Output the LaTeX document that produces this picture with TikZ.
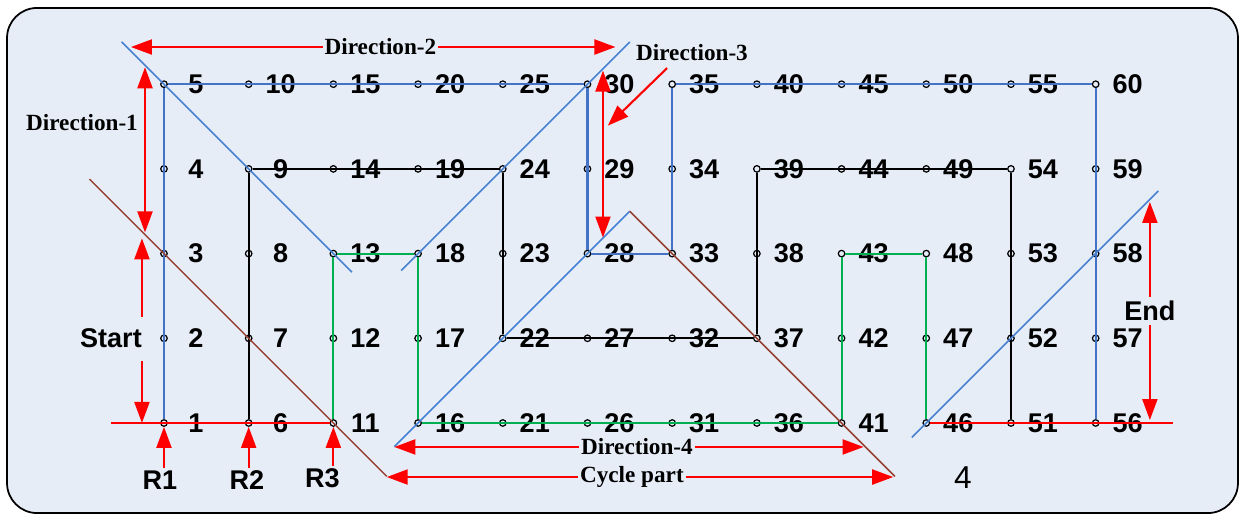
\documentclass[tikz,border=0pt]{standalone}
\usepackage{fontspec}
\setmainfont{Liberation Serif}
\setsansfont{Liberation Sans}
\usetikzlibrary{arrows.meta,calc}

\definecolor{bgblue}{RGB}{231,237,247}
\definecolor{pathblue}{RGB}{68,114,196}
\definecolor{cutblue}{RGB}{70,128,210}
\definecolor{pathgreen}{RGB}{0,176,80}
\definecolor{cutbrown}{RGB}{150,65,50}

\begin{document}
\begin{tikzpicture}[x=0.847cm, y=0.847cm,
  dot/.style={circle, draw=black, line width=0.35pt, fill=bgblue, inner sep=0pt, minimum size=0.065cm},
  num/.style={font=\sffamily\bfseries\fontsize{7.7}{9}\selectfont, text=black, inner sep=0.5pt},
  dirlbl/.style={font=\rmfamily\bfseries\fontsize{6.6}{8}\selectfont, text=black, inner sep=0.6pt},
  redline/.style={red, line width=0.6pt},
  redarr/.style={redline, -{Triangle[length=2.1mm,width=1.5mm]}},
  redboth/.style={redline, {Triangle[length=2.1mm,width=1.5mm]}-{Triangle[length=2.1mm,width=1.5mm]}},
  bluepath/.style={pathblue, line width=0.6pt},
  blackpath/.style={black, line width=0.6pt},
  greenpath/.style={pathgreen, line width=0.6pt},
  bluecut/.style={cutblue, line width=0.45pt},
  browncut/.style={cutbrown, line width=0.45pt}]
\useasboundingbox (-1.936,-1.086) rectangle (12.704,4.994);
\draw[black, line width=0.5pt, fill=bgblue, rounded corners=0.3cm] (-1.853,-1.063) rectangle (12.68,4.90);

% grid of points 1..60
\foreach \c in {0,...,11}
  \foreach \r in {0,...,4} {
    \pgfmathtruncatemacro{\k}{5*\c+\r+1}
    \node[dot] (n\k) at (\c,\r) {};
    \node[num] (l\k) at ([xshift=0.32cm]n\k.center) {\k};
  }

% the three loops
\draw[bluepath] (n1) -- (n5) -- (n30) -- (n28) -- (n33) -- (n35) -- (n60) -- (n56);
\draw[blackpath] (n6) -- (n9) -- (n24) -- (n22) -- (n37) -- (n39) -- (n54) -- (n51);
\draw[greenpath] (n11) -- (n13) -- (n18) -- (n16) -- (n41) -- (n43) -- (n48) -- (n46);

% start and end rows
\coordinate (rowL) at (-0.626,0);
\coordinate (rowR) at (11.91,0);
\draw[redline] (rowL) -- (n11);
\draw[redline] (n46) -- (rowR);

% cutting lines
\coordinate (cut1s) at (-0.5,4.5);   \coordinate (cut1e) at (2.22,1.78);
\coordinate (cut2s) at (2.8,1.8);    \coordinate (cut2e) at (5.5,4.5);
\coordinate (cut3s) at (2.72,-0.28); \coordinate (apex) at (5.5,2.5);
\coordinate (cut4e) at (8.63,-0.63);
\coordinate (cut5s) at (-0.88,2.88); \coordinate (cut5e) at (2.63,-0.63);
\coordinate (cut6s) at (8.83,-0.17); \coordinate (cut6e) at (11.74,2.74);
\draw[bluecut] (cut1s) -- (cut1e);
\draw[bluecut] (cut2s) -- (cut2e);
\draw[bluecut] (cut3s) -- (apex);
\draw[browncut] (apex) -- (cut4e);
\draw[browncut] (cut5s) -- (cut5e);
\draw[bluecut] (cut6s) -- (cut6e);

% Direction-1
\coordinate (d1t) at (-0.224,4.2); \coordinate (d1b) at (-0.224,2.25);
\draw[redboth] (d1b) -- (d1t);
\node[dirlbl] (d1) at (-0.968,3.542) {Direction-1};

% Direction-2
\coordinate (d2l) at (-0.39,4.439); \coordinate (d2r) at (5.33,4.439);
\draw[redboth] (d2l) -- node[dirlbl, fill=bgblue, pos=0.515] (d2) {Direction-2} (d2r);

% Direction-3
\coordinate (d3t) at (5.183,4.16); \coordinate (d3b) at (5.183,2.19);
\draw[redboth] (d3b) -- (d3t);
\node[dirlbl] (d3) at (6.234,4.368) {Direction-3};
\coordinate (d3s) at (5.94,4.19); \coordinate (d3e) at (5.24,3.51);
\draw[redarr] (d3s) -- (d3e);

% Start
\node[num] (start) at (-0.626,1.004) {Start};
\coordinate (stu0) at (-0.26,1.25); \coordinate (stu) at (-0.26,2.18);
\coordinate (std0) at (-0.26,0.73); \coordinate (std) at (-0.26,0.0);
\draw[redarr] (stu0) -- (stu);
\draw[redarr] (std0) -- (std);

% End
\coordinate (endt) at (11.64,2.61); \coordinate (endb) at (11.64,0.035);
\draw[redboth] (endb) -- node[num, fill=bgblue, inner sep=1.2pt] (endlbl) {End} (endt);

% R1 R2 R3
\node[num] (r1) at (-0.047,-0.673) {R1};
\node[num] (r2) at (0.98,-0.673) {R2};
\node[num] (r3) at (1.87,-0.65) {R3};
\draw[redarr] (n1 |- r1.north) -- (n1);
\draw[redarr] (n6 |- r2.north) -- (n6);
\draw[redarr] (n11 |- r3.north) -- (n11);

% Direction-4 and cycle part
\coordinate (d4l) at (2.72,-0.283); \coordinate (d4r) at (8.26,-0.283);
\draw[redboth] (d4l) -- node[dirlbl, fill=bgblue, pos=0.517] (d4) {Direction-4} (d4r);
\coordinate (cyl) at (2.63,-0.638); \coordinate (cyr) at (8.61,-0.638);
\draw[redboth] (cyl) -- node[dirlbl, fill=bgblue, pos=0.484] (cyc) {Cycle part} (cyr);
\node[font=\sffamily\fontsize{9}{11}\selectfont] (four) at (9.433,-0.649) {4};
\end{tikzpicture}
\end{document}
